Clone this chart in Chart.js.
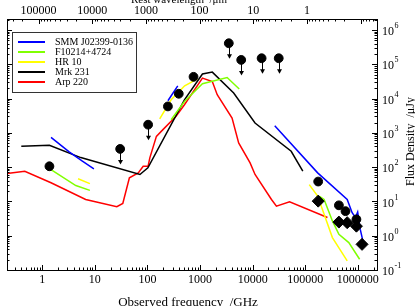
<!DOCTYPE html>
<html>
<head>
<meta charset="utf-8">
<script src="https://cdn.jsdelivr.net/npm/chart.js@4.4.0/dist/chart.umd.min.js"></script>
<style>
html, body { margin: 0; padding: 0; background: #fff; }
#wrap { width: 415px; height: 306px; }
</style>
</head>
<body>
<div id="wrap"><canvas id="sedChart"></canvas></div>
<script>
// frequency in GHz, flux density in uJy; a null flux breaks the curve
const smmFreq = [1.47, 3.25, 5.8, 9.6, 12, 245, 377, 500, 26300, 172000, 627000, 778000, 897000, 991000, 1110000, 1290000];
const smmFlux = [740, 279, 149, 89, null, 8630, 23500, null, 1620, 68, 11.4, 4.7, 3.4, 4.9, 1.53, 0.56];

const f10214Freq = [1.47, 4.35, 8.05, 20, 282, 505, 1110, 3270, 5560, 10000, 184000, 228000, 328000, 436000, 672000, 1080000];
const f10214Flux = [85, 29, 21, null, 2420, 8240, 27000, 41000, 18900, null, 14.3, 11.4, 2.7, 1.1, 0.63, 0.206];

const hr10Freq = [4.8, 8.05, 20, 171, 282, 510, 894, 5000, 119000, 172000, 328000, 627000];
const hr10Flux = [46, 33, null, 2540, 9230, 23500, 37600, null, 31, 14.3, 0.88, 0.184];

const mrk231Freq = [0.40, 1.37, 5.4, 72, 102, 505, 1110, 1710, 4360, 11100, 54000, 89800];
const mrk231Flux = [405, 433, 190, 61, 96, 9200, 52000, 59000, 14500, 1940, 290, 76];

const arp220Freq = [0.214, 0.466, 1.47, 6.7, 26.2, 34, 45.4, 66.9, 83, 103, 111, 148, 197, 350, 505, 1110, 1710, 2120, 4060, 5420, 8940, 11100, 22800, 28300, 50300, 264000];
const arp220Flux = [65, 76, 35, 11.4, 7.0, 8.7, 49, 68, 106, 106, 186, 790, 1240, 3020, 6600, 39400, 31400, 12900, 2710, 508, 133, 61, 11.4, 7.3, 9.8, 3.4];

const SERIES_NAMES = ['SMM J02399-0136', 'F10214+4724', 'HR 10', 'Mrk 231', 'Arp 220'];
const SERIES_COLORS = ['#0000ff', '#80ff00', '#ffff00', '#000000', '#ff0000'];
const SERIES_FREQ = [smmFreq, f10214Freq, hr10Freq, mrk231Freq, arp220Freq];
const SERIES_FLUX = [smmFlux, f10214Flux, hr10Flux, mrk231Flux, arp220Flux];

// photometry points
const detFreq = [1.37, 245, 394, 752, 176000, 436000, 582000, 938000];
const detFlux = [106, 5900, 13800, 43000, 38, 7.7, 5.2, 3.0];
const limFreq = [30.3, 103, 3520, 6060, 14800, 31300];
const limFlux = [340, 1730, 410000, 134000, 150000, 150000];
const diaFreq = [176000, 436000, 627000, 938000, 1200000];
const diaFlux = [10.2, 2.5, 2.4, 1.9, 0.56];

// axes
const FREQ_RANGE = [0.214, 2.31e6];
const WAVE_RANGE = [0.0495, 3.87e5];
const FLUX_RANGE = [0.1, 2.09e6];
const freqTicks = [1, 10, 100, 1000, 10000, 100000, 1000000];
const waveTicks = [100000, 10000, 1000, 100, 10, 1];
const fluxExps = [-1, 0, 1, 2, 3, 4, 5, 6];

const SERIF = "'Liberation Serif', 'Times New Roman', serif";

function pairs(xs, ys) {
	return xs.map((x, i) => ({ x: x, y: ys[i] }));
}

const lineSets = SERIES_NAMES.map((name, i) => ({
	label: name,
	data: pairs(SERIES_FREQ[i], SERIES_FLUX[i]),
	borderColor: SERIES_COLORS[i],
	backgroundColor: SERIES_COLORS[i],
	borderWidth: 1.5,
	pointRadius: 0,
	spanGaps: false,
	tension: 0,
	fill: false,
}));

const markerBase = {
	showLine: false,
	pointBackgroundColor: '#000',
	pointBorderColor: '#000',
	pointBorderWidth: 1,
};
const detSet = Object.assign({ label: 'detected', data: pairs(detFreq, detFlux), pointStyle: 'circle', pointRadius: 4.4 }, markerBase);
const limSet = Object.assign({ label: 'limits', data: pairs(limFreq, limFlux), pointStyle: 'circle', pointRadius: 4.4 }, markerBase);
const diaSet = Object.assign({ label: 'diamonds', data: pairs(diaFreq, diaFlux), pointStyle: 'rectRot', pointRadius: 6 }, markerBase);

function logSteps(scale) {
	const lo = Math.min(scale.min, scale.max);
	const hi = Math.max(scale.min, scale.max);
	const out = [];
	for (let d = Math.floor(Math.log10(lo)); d <= Math.ceil(Math.log10(hi)); d++) {
		for (let m = 1; m <= 9; m++) {
			const v = m * Math.pow(10, d);
			if (v >= lo && v <= hi) out.push({ v: v, major: m === 1 });
		}
	}
	return out;
}

const px = v => Math.round(v) + 0.5;

const framePlugin = {
	id: 'frame',
	afterDatasetsDraw(chart) {
		const { ctx, chartArea: a, scales } = chart;
		ctx.save();
		ctx.strokeStyle = '#000';
		ctx.lineWidth = 1;
		ctx.beginPath();
		logSteps(scales.x).forEach(t => {
			const x = px(scales.x.getPixelForValue(t.v));
			ctx.moveTo(x, a.bottom);
			ctx.lineTo(x, a.bottom - (t.major ? 5 : 2.5));
		});
		logSteps(scales.x2).forEach(t => {
			const x = px(scales.x2.getPixelForValue(t.v));
			ctx.moveTo(x, a.top);
			ctx.lineTo(x, a.top + (t.major ? 5 : 2.5));
		});
		logSteps(scales.y).forEach(t => {
			const y = px(scales.y.getPixelForValue(t.v));
			ctx.moveTo(a.right, y);
			ctx.lineTo(a.right - (t.major ? 5 : 2.5), y);
			ctx.moveTo(a.left, y);
			ctx.lineTo(a.left + (t.major ? 5 : 2.5), y);
		});
		ctx.stroke();
		ctx.strokeRect(px(a.left), px(a.top), Math.round(a.right - a.left), Math.round(a.bottom - a.top));

		// upper limit arrows
		const meta = chart.getDatasetMeta(1);
		ctx.fillStyle = '#000';
		meta.data.forEach(p => {
			const x = px(p.x);
			ctx.beginPath();
			ctx.moveTo(x, p.y);
			ctx.lineTo(x, p.y + 12);
			ctx.stroke();
			ctx.beginPath();
			ctx.moveTo(x - 2.5, p.y + 11);
			ctx.lineTo(x + 2.5, p.y + 11);
			ctx.lineTo(x, p.y + 15.5);
			ctx.closePath();
			ctx.fill();
		});

		// flux labels on the right, 10 with a raised exponent
		ctx.textBaseline = 'middle';
		ctx.textAlign = 'left';
		fluxExps.forEach(e => {
			const y = scales.y.getPixelForValue(Math.pow(10, e));
			ctx.font = '12px ' + SERIF;
			ctx.fillText('10', a.right + 5, y + 2);
			const w = ctx.measureText('10').width;
			ctx.font = '8px ' + SERIF;
			ctx.fillText(String(e), a.right + 5.5 + w, y - 4);
		});

		// axis titles
		ctx.font = '13px ' + SERIF;
		ctx.textAlign = 'center';
		ctx.textBaseline = 'alphabetic';
		ctx.fillText('Observed frequency  /GHz', 188, 306);
		ctx.font = '11px ' + SERIF;
		ctx.textBaseline = 'middle';
		ctx.fillText('Rest wavelength  /\u03bcm', 179, 0.5);
		ctx.save();
		ctx.translate(414, 141.5);
		ctx.rotate(-Math.PI / 2);
		ctx.font = '12px ' + SERIF;
		ctx.textBaseline = 'alphabetic';
		ctx.fillText('Flux Density  /\u03bcJy', 0, 0);
		ctx.restore();

		// legend box
		ctx.fillStyle = '#fff';
		ctx.fillRect(12, 32, 124, 60);
		ctx.strokeStyle = '#333';
		ctx.strokeRect(12.5, 32.5, 124, 60);
		ctx.font = '10px ' + SERIF;
		ctx.textAlign = 'left';
		ctx.textBaseline = 'middle';
		lineSets.forEach((ds, i) => {
			const y = 42 + i * 10;
			ctx.strokeStyle = ds.borderColor;
			ctx.lineWidth = 2;
			ctx.beginPath();
			ctx.moveTo(18, y);
			ctx.lineTo(45, y);
			ctx.stroke();
			ctx.fillStyle = '#000';
			ctx.fillText(ds.label, 55, y + 0.5);
		});
		ctx.restore();
	},
};

const sedChart = new Chart(document.getElementById('sedChart'), {
	type: 'line',
	data: {
		datasets: [detSet, limSet, diaSet].concat(lineSets),
	},
	options: {
		responsive: true,
		maintainAspectRatio: false,
		animation: false,
		devicePixelRatio: 1,
		layout: { padding: { left: 2 } },
		plugins: {
			legend: { display: false },
			tooltip: { enabled: false },
		},
		scales: {
			x: {
				type: 'logarithmic',
				position: 'bottom',
				min: FREQ_RANGE[0],
				max: FREQ_RANGE[1],
				grid: { display: false, drawTicks: false, tickLength: 0 },
				border: { display: false },
				afterBuildTicks: s => {
					s.ticks = freqTicks.map(v => ({ value: v }));
				},
				afterFit: s => {
					s.height = 36;
				},
				ticks: {
					autoSkip: false,
					maxRotation: 0,
					padding: 3,
					color: '#000',
					font: { family: SERIF, size: 12 },
					callback: v => String(v),
				},
			},
			x2: {
				type: 'logarithmic',
				position: 'top',
				reverse: true,
				min: WAVE_RANGE[0],
				max: WAVE_RANGE[1],
				grid: { display: false, drawTicks: false, tickLength: 0 },
				border: { display: false },
				afterBuildTicks: s => {
					s.ticks = waveTicks.map(v => ({ value: v }));
				},
				afterFit: s => {
					s.height = 19;
				},
				ticks: {
					autoSkip: false,
					maxRotation: 0,
					padding: 1,
					color: '#000',
					font: { family: SERIF, size: 12 },
					callback: v => String(v),
				},
			},
			y: {
				type: 'logarithmic',
				position: 'right',
				min: FLUX_RANGE[0],
				max: FLUX_RANGE[1],
				grid: { display: false, drawTicks: false },
				border: { display: false },
				ticks: { display: false },
				afterFit: s => {
					s.width = 38;
				},
			},
		},
	},
	plugins: [framePlugin],
});
</script>
</body>
</html>
